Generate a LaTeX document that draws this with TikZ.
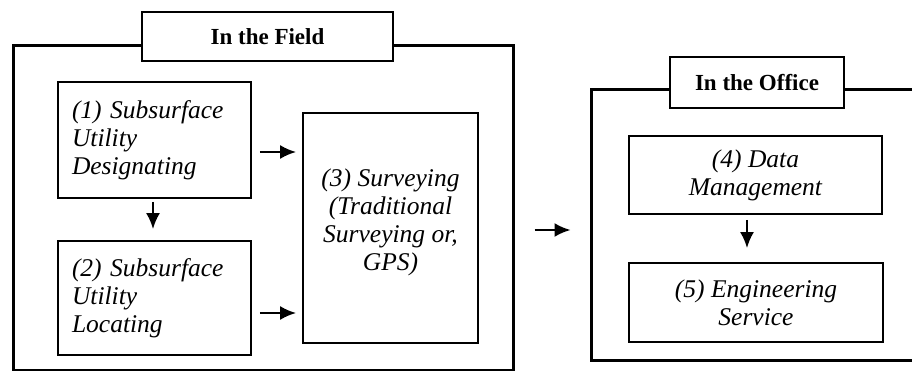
\documentclass[tikz,border=0pt]{standalone}
\usepackage{fontspec}
\setmainfont{Liberation Serif}
\usetikzlibrary{arrows.meta}
\begin{document}
\begin{tikzpicture}[x=1pt,y=-1pt,
  outerbox/.style={draw,line width=3pt,minimum width=#1},
  titlebox/.style={draw,fill=white,line width=2.6pt,inner sep=0pt,font=\fontsize{23}{28}\selectfont\bfseries},
  steptext/.style={font=\fontsize{25.5}{28}\selectfont\itshape},
  stepbox/.style={draw,line width=1.8pt,inner sep=0pt,steptext},
  arr/.style={line width=2.2pt,-{Latex[length=16pt,width=14pt]}}]
\useasboundingbox (0,0) rectangle (912,371);
% In the Field
\node[outerbox=500pt,minimum height=324pt] (field) at (263,208) {};
\node[titlebox,minimum width=251pt,minimum height=49pt] (ftitle) at (267.5,36.5) {In the Field};
\node[stepbox,minimum width=193pt,minimum height=116pt,text width=165pt,align=left] (b1) at (154.5,140) {(1) Subsurface\\Utility\\Designating};
\node[stepbox,minimum width=193pt,minimum height=114pt,text width=165pt,align=left] (b2) at (154.5,298) {(2) Subsurface\\Utility\\Locating};
\node[stepbox,minimum width=175pt,minimum height=230pt] (b3) at (390.5,228) {};
\node[steptext,align=center,inner sep=0pt] (t3) at (b3.center |- 0,222) {(3) Surveying\\(Traditional\\Surveying or,\\GPS)};
% In the Office
\node[outerbox=329pt,minimum height=270pt] (office) at (755.5,225) {};
\node[titlebox,minimum width=174pt,minimum height=51pt] (otitle) at (757,82.5) {In the Office};
\node[stepbox,minimum width=253pt,minimum height=78pt,align=center] (b4) at (755.5,175) {(4) Data\\Management};
\node[stepbox,minimum width=254pt,minimum height=79pt,align=center] (b5) at (756,302.5) {(5) Engineering\\Service};
% arrows
\draw[arr,shorten <=8pt,shorten >=6pt] (b1.east |- 0,152) -- (b3.west |- 0,152);
\draw[arr,shorten <=8pt,shorten >=6pt] (b2.east |- 0,313) -- (b3.west |- 0,313);
\draw[arr,shorten <=3pt,shorten >=11pt] (153,0 |- b1.south) -- (153,0 |- b2.north);
\draw[arr,shorten <=5pt,shorten >=14pt] (747,0 |- b4.south) -- (747,0 |- b5.north);
\draw[arr,shorten <=20pt,shorten >=19pt] (field.east |- 0,230) -- (office.west |- 0,230);
\end{tikzpicture}
\end{document}
